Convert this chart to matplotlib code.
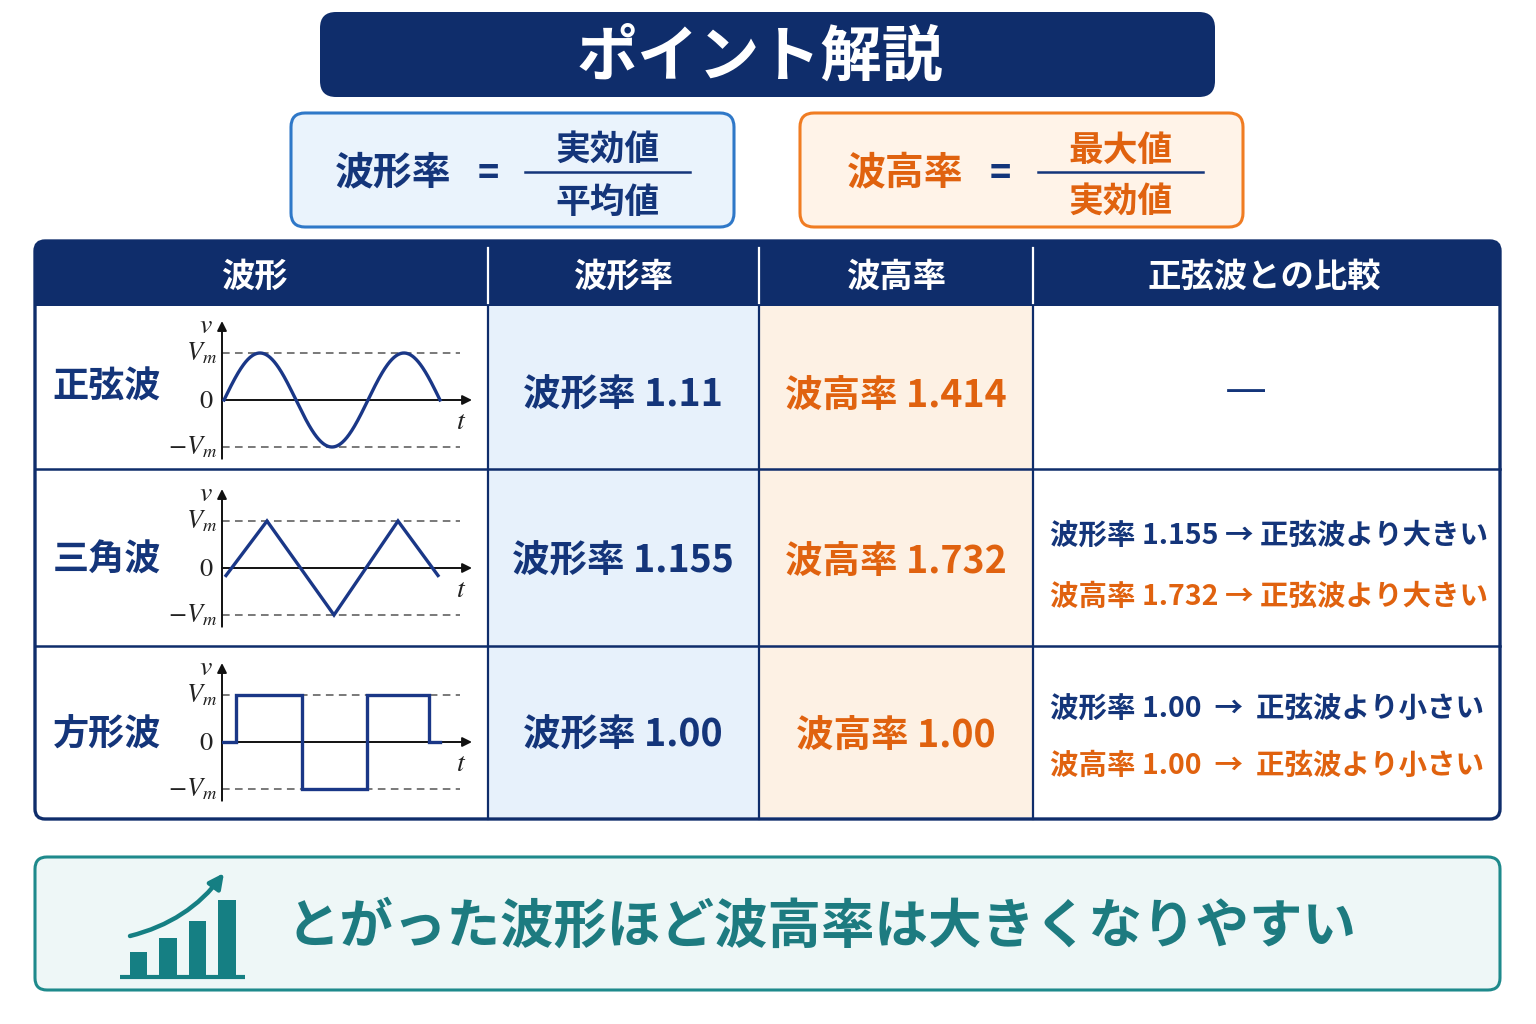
import numpy as np
import matplotlib
matplotlib.use("Agg")
import matplotlib.pyplot as plt
from matplotlib.patches import FancyBboxPatch, Rectangle

plt.rcParams['font.family'] = ['Noto Sans CJK JP', 'DejaVu Sans']
plt.rcParams['mathtext.fontset'] = 'stix'

# ---------------- data ----------------
title = "ポイント解説"
formula_left = ["波形率", "実効値", "平均値"]
formula_right = ["波高率", "最大値", "実効値"]
headers = ["波形", "波形率", "波高率", "正弦波との比較"]
wave_names = ["正弦波", "三角波", "方形波"]
form_factor = ["1.11", "1.155", "1.00"]
crest_factor = ["1.414", "1.732", "1.00"]
compare_ff = ["", "波形率 1.155 → 正弦波より大きい", "波形率 1.00 → 正弦波より小さい"]
compare_cf = ["", "波高率 1.732 → 正弦波より大きい", "波高率 1.00 → 正弦波より小さい"]
summary = "とがった波形ほど波高率は大きくなりやすい"

# waveform definitions (t in axis units 0..10, v in units of Vm)
sine_start, sine_period, sine_cycles = 0.08, 5.76, 1.5
tri_t = [0.16, 1.80, 4.48, 7.04, 8.64]
tri_v = [-0.16, 1.0, -1.0, 1.0, -0.16]
sq_t = [0.0, 0.56, 0.56, 3.20, 3.20, 5.80, 5.80, 8.28, 8.28, 8.72]
sq_v = [0.0, 0.0, 1.0, 1.0, -1.0, -1.0, 1.0, 1.0, 0.0, 0.0]

icon_bar_heights = [25, 39, 56, 77]

# ---------------- colours ----------------
NAVY = '#0f2d6b'
TNAVY = '#14357a'
ORANGE = '#e0620f'
WAVE = '#1a3787'
W, H = 1536, 1024
DY = 3  # optical offset for CJK text centring

fig = plt.figure(figsize=(W / 100, H / 100), dpi=100)
fig.patch.set_facecolor('white')
ax = fig.add_axes([0, 0, 1, 1])
ax.set_xlim(0, W)
ax.set_ylim(H, 0)
ax.axis('off')


def rbox(x0, y0, x1, y1, fc, ec='none', lw=0, r=12, z=1):
    p = FancyBboxPatch((x0, y0), x1 - x0, y1 - y0,
                       boxstyle=f"round,pad=0,rounding_size={r}",
                       fc=fc, ec=ec, lw=lw, zorder=z)
    ax.add_patch(p)
    return p


def txt(x, y, s, **kw):
    kw.setdefault('ha', 'center')
    kw.setdefault('va', 'center')
    kw.setdefault('zorder', 7)
    return ax.text(x, y + DY, s, **kw)


def inset(l, t, r, b):
    return fig.add_axes([l / W, 1 - b / H, (r - l) / W, (b - t) / H])


# ---------------- title ----------------
rbox(320, 12, 1215, 97, NAVY, r=16)
txt(760, 55, title, color='white', fontsize=44, fontweight='bold')

# ---------------- formula boxes ----------------
def formula(x0, x1, fc, ec, lhs, num, den, col, lhs_x, eq_x, fl0, fl1):
    rbox(x0, 113, x1, 227, fc, ec, 2.2, r=14, z=2)
    txt(lhs_x, 170, lhs, color=col, fontsize=28, fontweight='bold')
    txt(eq_x, 170, "=", color=TNAVY, fontsize=26, fontweight='bold')
    ax.plot([fl0, fl1], [172, 172], color=TNAVY, lw=1.8, zorder=5)
    fx = (fl0 + fl1) / 2
    txt(fx, 147, num, color=col, fontsize=25, fontweight='bold')
    txt(fx, 199, den, color=col, fontsize=25, fontweight='bold')

formula(291, 734, '#eaf3fc', '#2f78c8', formula_left[0], formula_left[1], formula_left[2],
        TNAVY, 393, 488, 525, 690)
formula(800, 1243, '#fff3e8', '#f07c22', formula_right[0], formula_right[1], formula_right[2],
        ORANGE, 905, 1000, 1038, 1203)

# ---------------- table ----------------
TX0, TX1, TY0, TY1 = 35, 1500, 241, 819
cols = [TX0, 488, 759, 1033, TX1]
rows = [306, 469, 646, TY1]
rbox(TX0, TY0, TX1, TY1, 'white', r=10, z=1)
rbox(TX0, TY0, TX1, 340, NAVY, r=10, z=2)
col_fill = ['white', '#e7f1fb', '#fdf1e4', 'white']
for i in range(4):
    ax.add_patch(Rectangle((cols[i], rows[0]), cols[i + 1] - cols[i], TY1 - 2 - rows[0],
                           fc=col_fill[i], ec='none', zorder=3))
for x in cols[1:4]:
    ax.plot([x, x], [248, 303], color='white', lw=1.6, zorder=4)
    ax.plot([x, x], [rows[0], TY1], color=NAVY, lw=1.6, zorder=4)
for y in rows[1:3]:
    ax.plot([TX0, TX1], [y, y], color=NAVY, lw=1.8, zorder=4)
rbox(TX0, TY0, TX1, TY1, 'none', NAVY, 2.4, r=10, z=6)

hx = [254, 623, 896, 1264]
for x, h in zip(hx, headers):
    txt(x, 274, h, color='white', fontsize=24, fontweight='bold')

row_y = [392, 558, 732]
label_y = [384, 557, 732]
for i in range(3):
    txt(107, label_y[i], wave_names[i], color=TNAVY, fontsize=26, fontweight='bold')
    txt(623, row_y[i], "波形率 " + form_factor[i], color=TNAVY, fontsize=27,
        fontweight='bold')
    txt(896, row_y[i], "波高率 " + crest_factor[i], color=ORANGE, fontsize=27,
        fontweight='bold')

txt(1246, 388, "—", color=TNAVY, fontsize=34)
cmp_y = [(0, 0), (533, 594), (706, 763)]
arrow_sep = [" → ", " → ", "  →  "]
for i in (1, 2):
    txt(1050, cmp_y[i][0], compare_ff[i].replace(" → ", arrow_sep[i]), color=TNAVY,
        fontsize=20.5, fontweight='bold', ha='left')
    txt(1050, cmp_y[i][1], compare_cf[i].replace(" → ", arrow_sep[i]), color=ORANGE,
        fontsize=20.5, fontweight='bold', ha='left')

# ---------------- waveforms ----------------
zero_y = [400, 568, 742]
UNIT = 47.0
waves = []
ts = np.linspace(sine_start, sine_start + sine_cycles * sine_period, 400)
waves.append((ts, np.sin(2 * np.pi * (ts - sine_start) / sine_period)))
waves.append((tri_t, tri_v))
waves.append((sq_t, sq_v))

for i, (wt, wv) in enumerate(waves):
    z0 = zero_y[i]
    top, bot = z0 - 1.75 * UNIT, z0 + 1.35 * UNIT
    a = inset(222, top, 472, bot)
    a.set_xlim(0, 10)
    a.set_ylim(-1.35, 1.75)
    a.axis('off')
    for lv in (1, -1):
        a.plot([0, 9.5], [lv, lv], color='#555555', lw=1.1, ls=(0, (5, 3.5)))
    a.annotate('', xy=(10, 0), xytext=(0, 0),
               arrowprops=dict(arrowstyle='-|>', color='#111111', lw=1.4,
                               mutation_scale=14, shrinkA=0, shrinkB=0))
    a.annotate('', xy=(0, 1.68), xytext=(0, -1.25),
               arrowprops=dict(arrowstyle='-|>', color='#111111', lw=1.4,
                               mutation_scale=14, shrinkA=0, shrinkB=0))
    a.plot(wt, wv, color=WAVE, lw=2.4, solid_joinstyle='miter', zorder=5)
    a.text(-0.2, 1.0, r'$V_m$', fontsize=19, ha='right', va='center', color='#222222')
    a.text(-0.35, 0.0, r'$0$', fontsize=19, ha='right', va='center', color='#222222')
    a.text(-0.2, -1.0, r'$-V_m$', fontsize=19, ha='right', va='center', color='#222222')
    a.text(-0.35, 1.6, r'$v$', fontsize=20, ha='right', va='center', color='#222222')
    a.text(9.55, -0.45, r'$t$', fontsize=20, ha='center', va='center', color='#222222')

# ---------------- summary box ----------------
rbox(35, 857, 1500, 990, '#eef7f7', '#1e8a8c', 2.2, r=12, z=2)
txt(822, 924, summary, color='#1d7b80', fontsize=38.5, fontweight='bold')

ia = inset(120, 860, 245, 980)
ia.set_xlim(0, 125)
ia.set_ylim(-3, 117)
ia.axis('off')
ICON = '#157f83'
ia.bar([18.5, 48, 77.5, 107], icon_bar_heights, width=17.5, color=ICON, zorder=3)
ia.plot([0, 125], [0, 0], color=ICON, lw=3, solid_capstyle='butt', zorder=4)
ia.annotate('', xy=(104, 104), xytext=(10, 41),
            arrowprops=dict(arrowstyle='-|>', color=ICON, lw=3.2, mutation_scale=22,
                            shrinkA=0, shrinkB=0, connectionstyle='arc3,rad=0.18'))

fig.savefig('out.png', dpi=100, facecolor='white')
